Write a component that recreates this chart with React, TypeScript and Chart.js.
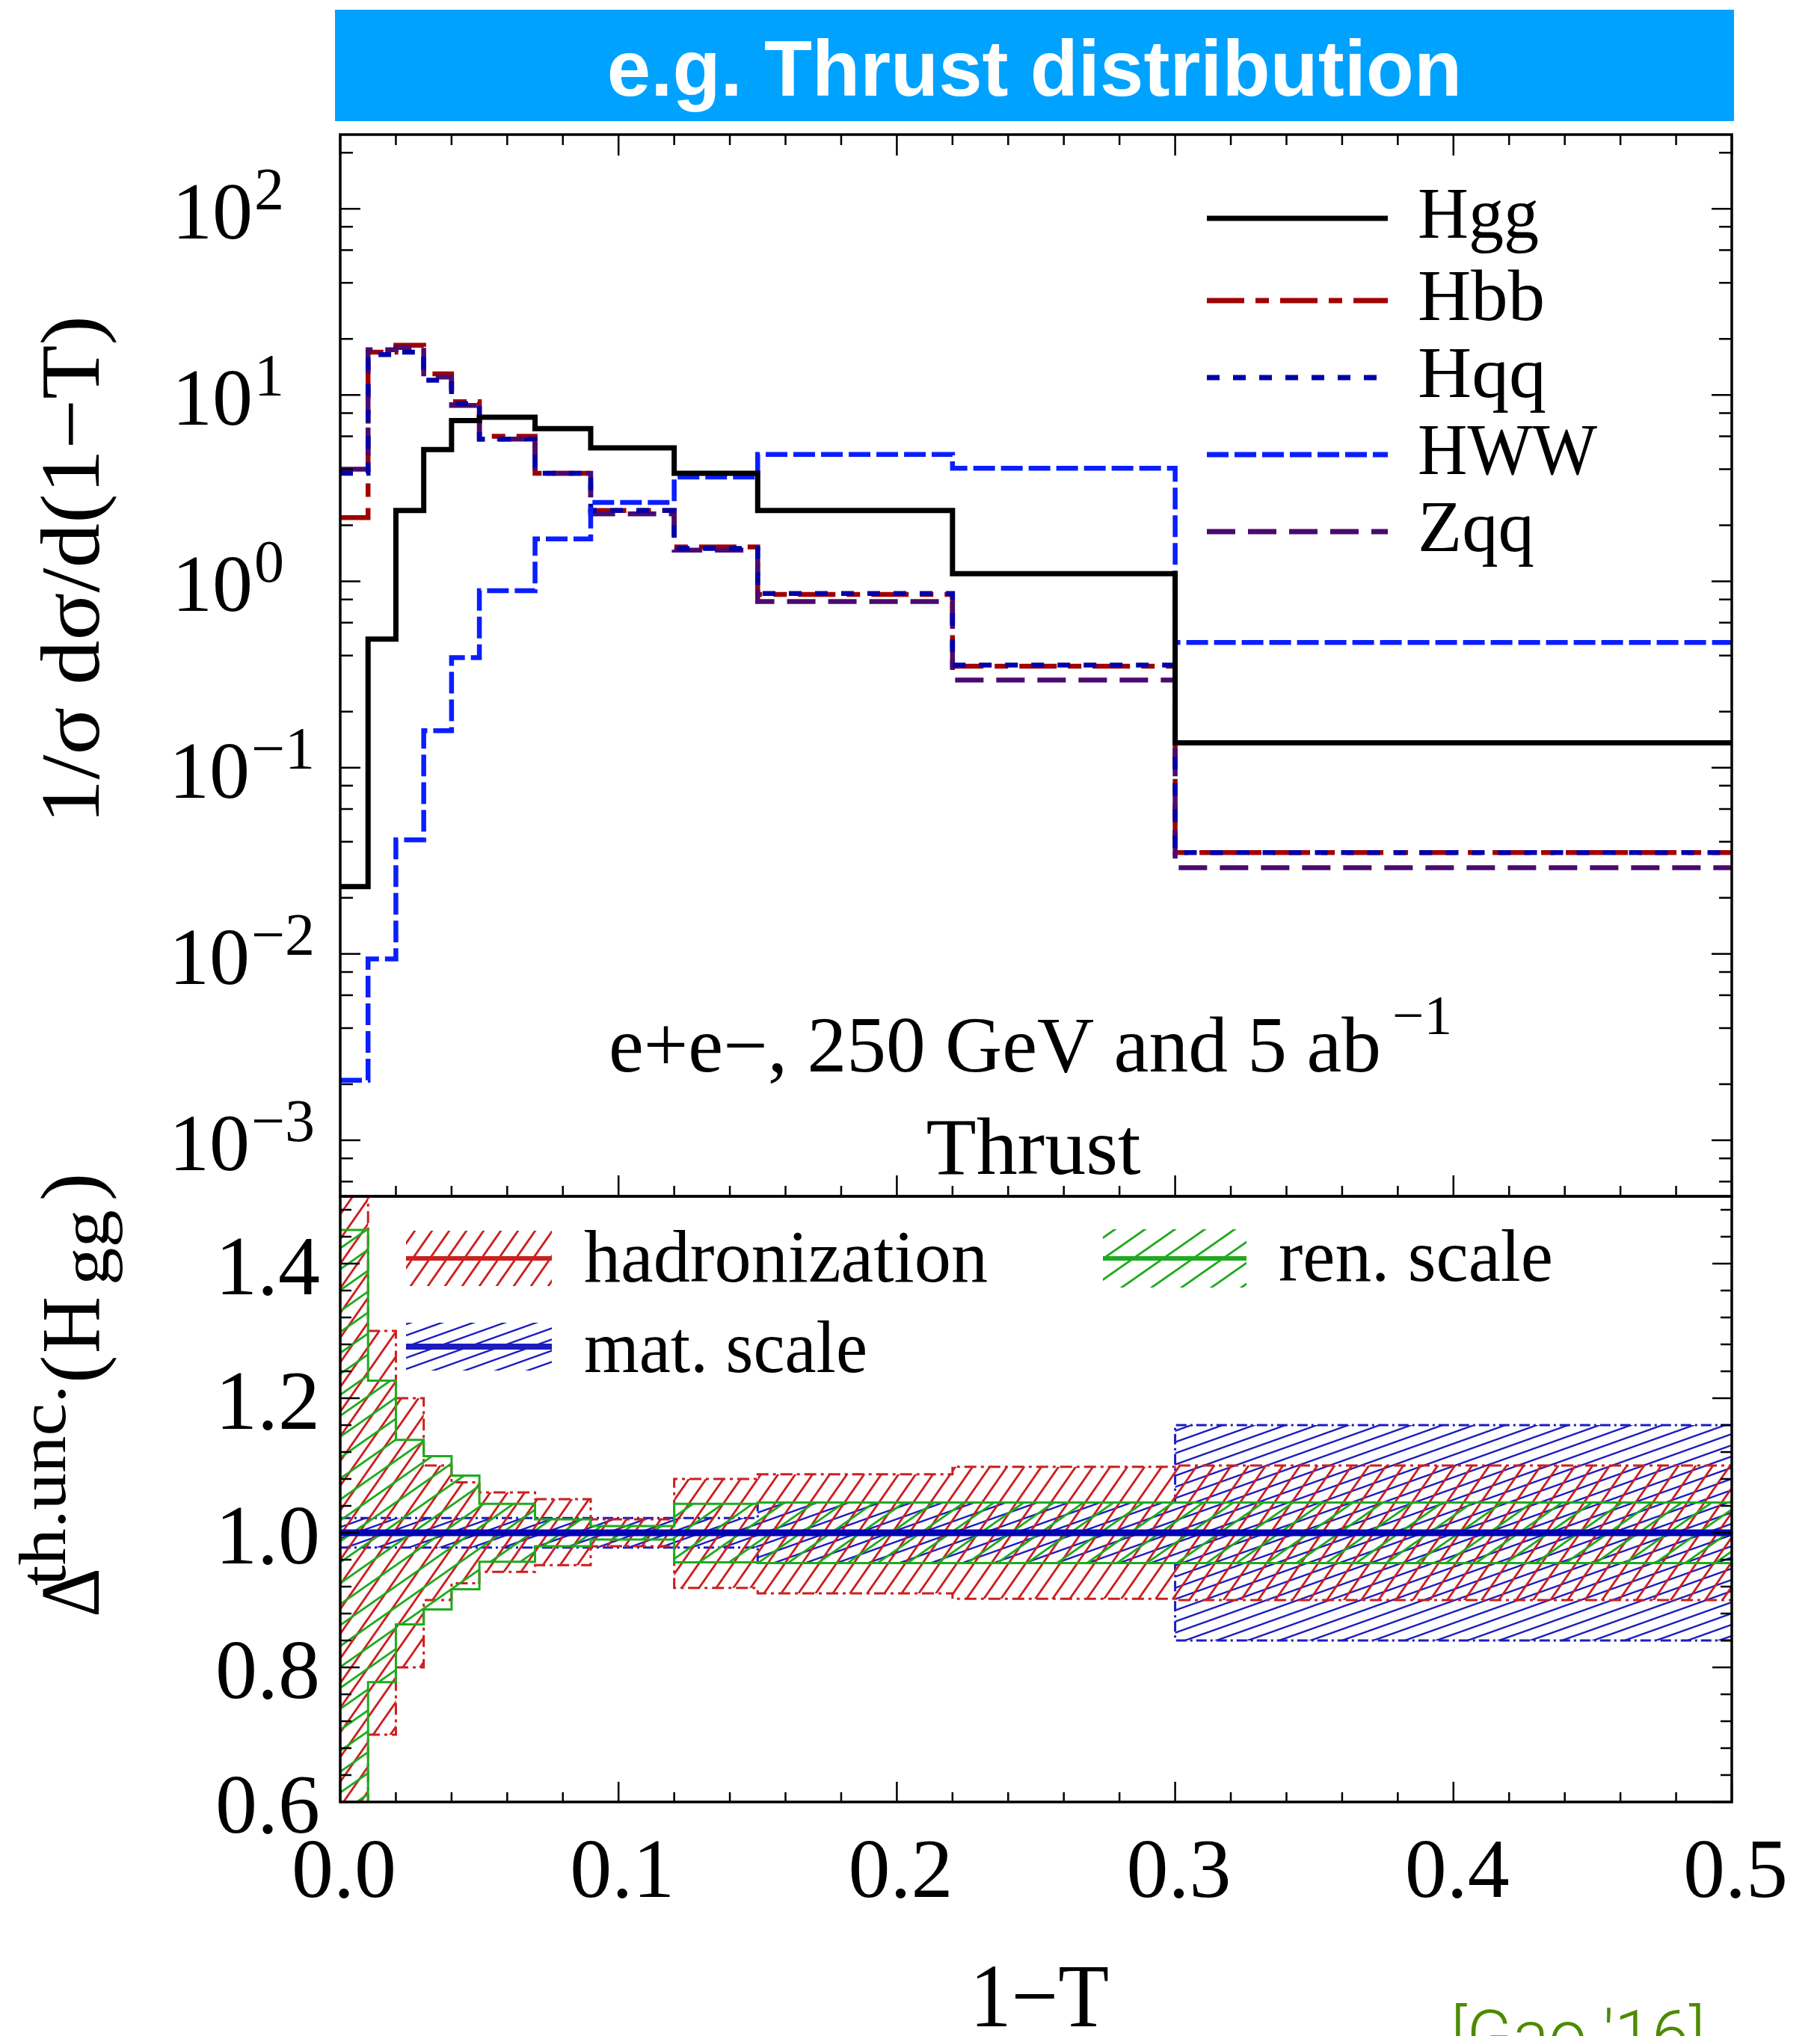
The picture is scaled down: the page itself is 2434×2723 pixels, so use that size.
import React, { useEffect, useRef } from "react";
import { Chart, registerables } from "chart.js";
Chart.register(...registerables);

const SERIF = '"Liberation Serif", "DejaVu Serif", serif';

// ---------- data ----------
const binEdges = [0, 0.01, 0.02, 0.03, 0.04, 0.05, 0.07, 0.09, 0.12, 0.15, 0.22, 0.3, 0.5];

const hgg = [0.023, 0.49, 2.4, 5.1, 7.3, 7.6, 6.6, 5.2, 3.8, 2.4, 1.1, 0.136];
const hbb = [2.2, 17, 18.5, 13, 9.2, 6.0, 3.8, 2.4, 1.53, 0.85, 0.35, 0.035];
const hqq = [3.8, 16.5, 17, 12, 9.0, 5.8, 3.8, 2.4, 1.5, 0.86, 0.355, 0.035];
const hww = [0.0021, 0.0094, 0.041, 0.158, 0.39, 0.89, 1.69, 2.65, 3.63, 4.8, 4.05, 0.47];
const zqq = [4.0, 17.5, 18, 12.5, 8.8, 5.8, 3.8, 2.3, 1.47, 0.78, 0.295, 0.029];

const hadUp = [1.65, 1.3, 1.2, 1.1, 1.075, 1.06, 1.05, 1.02, 1.08, 1.087, 1.098, 1.1];
const hadLo = [0.35, 0.7, 0.8, 0.9, 0.925, 0.942, 0.952, 0.98, 0.918, 0.91, 0.902, 0.9];
const renUp = [1.45, 1.226, 1.138, 1.114, 1.085, 1.043, 1.02, 1.01, 1.043, 1.045, 1.045, 1.045];
const renLo = [0.55, 0.778, 0.864, 0.886, 0.916, 0.957, 0.98, 0.99, 0.956, 0.955, 0.955, 0.955];
const matUp = [1.022, 1.022, 1.022, 1.022, 1.022, 1.022, 1.022, 1.022, 1.022, 1.045, 1.045, 1.16];
const matLo = [0.978, 0.978, 0.978, 0.978, 0.978, 0.978, 0.978, 0.978, 0.978, 0.955, 0.955, 0.84];
const matCentral = [1, 1, 1, 1, 1, 1, 1, 1, 1, 1, 1, 1];

const xTickValues = [0, 0.1, 0.2, 0.3, 0.4, 0.5];
const xTickLabels = ["0.0", "0.1", "0.2", "0.3", "0.4", "0.5"];
const logExponents = [2, 1, 0, -1, -2, -3];
const ratioTickValues = [0.6, 0.8, 1.0, 1.2, 1.4];
const ratioTickLabels = ["0.6", "0.8", "1.0", "1.2", "1.4"];

const seriesNames = ["Hgg", "Hbb", "Hqq", "HWW", "Zqq"];
const seriesColors = ["#000000", "#a00000", "#0000aa", "#0a1eff", "#4b0a6e"];
const seriesDashes: number[][] = [[], [50, 15, 18, 15], [17, 18], [29, 8], [38, 17]];

const bandNames = ["hadronization", "mat. scale", "ren. scale"];
const RED = "#cc1f1f";
const GREEN = "#1faa1f";
const BLUE = "#1c1cbf";

// ---------- helpers ----------
const stepData = (vals: number[]) => [
  ...vals.map((v, i) => ({ x: binEdges[i], y: v })),
  { x: binEdges[binEdges.length - 1], y: vals[vals.length - 1] },
];

function drawFit(
  ctx: CanvasRenderingContext2D,
  text: string,
  x: number,
  y: number,
  font: string,
  width?: number,
  align: CanvasTextAlign = "left"
) {
  ctx.save();
  ctx.font = font;
  ctx.textAlign = align;
  ctx.textBaseline = "alphabetic";
  ctx.fillStyle = "#000";
  const w = ctx.measureText(text).width;
  const s = width ? width / w : 1;
  ctx.translate(x, y);
  ctx.scale(s, 1);
  ctx.fillText(text, 0, 0);
  ctx.restore();
}

function makeHatch(ctx: CanvasRenderingContext2D, color: string, W: number, H: number, lw: number) {
  const c = document.createElement("canvas");
  c.width = W;
  c.height = H;
  const g = c.getContext("2d")!;
  g.strokeStyle = color;
  g.lineWidth = lw;
  for (let k = -1; k <= 1; k++) {
    g.beginPath();
    g.moveTo(k * W - W * 0.5, H * 1.5);
    g.lineTo(k * W + W * 1.5, -H * 0.5);
    g.stroke();
  }
  return ctx.createPattern(c, "repeat")!;
}

const upperDecor = {
  id: "upperDecor",
  afterDraw(chart: any) {
    const ctx: CanvasRenderingContext2D = chart.ctx;
    const { left, right, top, bottom } = chart.chartArea;
    const xs = chart.scales.x;
    const ys = chart.scales.y;
    ctx.save();
    ctx.setLineDash([]);
    ctx.strokeStyle = "#000";
    ctx.lineWidth = 3.5;
    ctx.strokeRect(left, top, right - left, bottom - top);
    ctx.lineWidth = 2.5;
    ctx.beginPath();
    for (let i = 0; i <= 25; i++) {
      const px = xs.getPixelForValue(i * 0.02);
      const L = i % 5 === 0 ? 28 : 14;
      ctx.moveTo(px, top);
      ctx.lineTo(px, top + L);
      ctx.moveTo(px, bottom);
      ctx.lineTo(px, bottom - L);
    }
    for (let e = -4; e <= 2; e++) {
      for (const m of [1, 2, 4, 6, 8]) {
        const v = m * Math.pow(10, e);
        if (v < ys.min || v > ys.max) continue;
        const py = ys.getPixelForValue(v);
        const L = m === 1 ? 27 : 17;
        ctx.moveTo(left, py);
        ctx.lineTo(left + L, py);
        ctx.moveTo(right, py);
        ctx.lineTo(right - L, py);
      }
    }
    ctx.stroke();

    // y tick labels 10^n
    for (const e of logExponents) {
      const py = ys.getPixelForValue(Math.pow(10, e));
      ctx.font = `108px ${SERIF}`;
      ctx.fillStyle = "#000";
      ctx.textAlign = "left";
      ctx.textBaseline = "alphabetic";
      const x0 = e < 0 ? 226 : 230;
      ctx.fillText("10", x0, py + 40);
      const w = ctx.measureText("10").width;
      ctx.font = `80px ${SERIF}`;
      const sup = e < 0 ? "\u2212" + Math.abs(e) : String(e);
      ctx.fillText(sup, x0 + w + 2, py + 1);
    }

    // y title (rotated)
    ctx.save();
    ctx.translate(132, 762);
    ctx.rotate(-Math.PI / 2);
    drawFit(ctx, "1/\u03c3 d\u03c3/d(1\u2212T)", 0, 0, `112px ${SERIF}`, 680, "center");
    ctx.restore();

    // annotation
    drawFit(ctx, "e+e\u2212, 250 GeV and 5 ab", 814, 1433, `105px ${SERIF}`, 1033, "left");
    drawFit(ctx, "\u22121", 1862, 1383, `74px ${SERIF}`, 80, "left");
    drawFit(ctx, "Thrust", 1382, 1570, `108px ${SERIF}`, 287, "center");

    // legend
    const legY = [292, 402, 505, 608, 711];
    const legW = [162, 170, 172, 240, 156];
    for (let i = 0; i < seriesNames.length; i++) {
      ctx.save();
      ctx.strokeStyle = seriesColors[i];
      ctx.lineWidth = 7;
      ctx.lineCap = "butt";
      ctx.setLineDash(seriesDashes[i]);
      ctx.beginPath();
      ctx.moveTo(1614, legY[i]);
      ctx.lineTo(1856, legY[i]);
      ctx.stroke();
      ctx.restore();
      drawFit(ctx, seriesNames[i], 1896, legY[i] + 26, `98px ${SERIF}`, legW[i], "left");
    }
    ctx.restore();
  },
};

const makeLowerDecor = (pats: { red: CanvasPattern; green: CanvasPattern; blue: CanvasPattern }) => ({
  id: "lowerDecor",
  afterDraw(chart: any) {
    const ctx: CanvasRenderingContext2D = chart.ctx;
    const { left, right, top, bottom } = chart.chartArea;
    const xs = chart.scales.x;
    const ys = chart.scales.y;
    ctx.save();
    ctx.setLineDash([]);
    ctx.strokeStyle = "#000";
    ctx.lineWidth = 3.5;
    ctx.strokeRect(left, top, right - left, bottom - top);
    ctx.lineWidth = 2.5;
    ctx.beginPath();
    for (let i = 0; i <= 25; i++) {
      const px = xs.getPixelForValue(i * 0.02);
      const L = i % 5 === 0 ? 27 : 13;
      ctx.moveTo(px, bottom);
      ctx.lineTo(px, bottom - L);
    }
    for (let k = 0; k <= 22; k++) {
      const v = 0.6 + 0.04 * k;
      const py = ys.getPixelForValue(v);
      const L = k % 5 === 0 ? 26 : 15;
      ctx.moveTo(left, py);
      ctx.lineTo(left + L, py);
      ctx.moveTo(right, py);
      ctx.lineTo(right - L, py);
    }
    ctx.stroke();

    // tick labels
    ctx.fillStyle = "#000";
    for (let i = 0; i < ratioTickValues.length; i++) {
      const py = ys.getPixelForValue(ratioTickValues[i]);
      drawFit(ctx, ratioTickLabels[i], 428, py + 41, `112px ${SERIF}`, undefined, "right");
    }
    for (let i = 0; i < xTickValues.length; i++) {
      const px = xs.getPixelForValue(xTickValues[i]);
      drawFit(ctx, xTickLabels[i], px + 5, 2537, `112px ${SERIF}`, undefined, "center");
    }
    drawFit(ctx, "1\u2212T", 1390, 2710, `121px ${SERIF}`, 186, "center");

    // y title (rotated)
    ctx.save();
    ctx.rotate(-Math.PI / 2);
    drawFit(ctx, "\u0394", -2163, 132, `112px ${SERIF}`, 66, "left");
    drawFit(ctx, "th.unc.", -2121, 87, `88px ${SERIF}`, 269, "left");
    drawFit(ctx, "(", -1850, 132, `112px ${SERIF}`, undefined, "left");
    drawFit(ctx, "H", -1810, 132, `112px ${SERIF}`, 76, "left");
    drawFit(ctx, "gg", -1719, 145, `90px ${SERIF}`, 101, "left");
    drawFit(ctx, ")", -1606, 132, `112px ${SERIF}`, undefined, "left");
    ctx.restore();

    // legend
    const entry = (x0: number, x1: number, y: number, h: number, pat: CanvasPattern, col: string, lw: number) => {
      ctx.save();
      ctx.fillStyle = pat;
      ctx.fillRect(x0, y - h, x1 - x0, 2 * h);
      ctx.strokeStyle = col;
      ctx.lineWidth = lw;
      ctx.setLineDash([]);
      ctx.beginPath();
      ctx.moveTo(x0, y);
      ctx.lineTo(x1, y);
      ctx.stroke();
      ctx.restore();
    };
    entry(543, 738, 1683, 37, pats.red, RED, 6);
    entry(543, 738, 1801, 32, pats.blue, BLUE, 8);
    entry(1475, 1667, 1683, 39, pats.green, GREEN, 6);
    drawFit(ctx, bandNames[0], 781, 1714, `100px ${SERIF}`, 540, "left");
    drawFit(ctx, bandNames[1], 781, 1835, `100px ${SERIF}`, 379, "left");
    drawFit(ctx, bandNames[2], 1710, 1713, `100px ${SERIF}`, 367, "left");
    ctx.restore();
  },
});

export default function App() {
  const topRef = useRef<HTMLCanvasElement>(null);
  const botRef = useRef<HTMLCanvasElement>(null);

  useEffect(() => {
    const lineDs = (label: string, vals: number[], color: string, dash: number[], width = 6.5) => ({
      label,
      data: stepData(vals),
      borderColor: color,
      backgroundColor: color,
      borderWidth: width,
      borderDash: dash,
      stepped: true,
      pointRadius: 0,
      fill: false,
      tension: 0,
      borderCapStyle: "butt",
      borderJoinStyle: "miter",
    });

    const top = new Chart(topRef.current!, {
      type: "line",
      data: {
        datasets: [
          lineDs(seriesNames[0], hgg, seriesColors[0], seriesDashes[0], 7),
          lineDs(seriesNames[3], hww, seriesColors[3], seriesDashes[3]),
          lineDs(seriesNames[2], hqq, seriesColors[2], seriesDashes[2]),
          lineDs(seriesNames[4], zqq, seriesColors[4], seriesDashes[4]),
          lineDs(seriesNames[1], hbb, seriesColors[1], seriesDashes[1]),
        ] as any,
      },
      options: {
        responsive: false,
        animation: false,
        devicePixelRatio: 1,
        events: [],
        layout: { padding: { left: 455, right: 118, top: 180, bottom: 1123 } },
        plugins: { legend: { display: false }, tooltip: { enabled: false }, title: { display: false } },
        scales: {
          x: { type: "linear", min: 0, max: 0.5, display: false, bounds: "data" },
          y: { type: "logarithmic", min: 5e-4, max: 250, display: false, bounds: "data" },
        },
      } as any,
      plugins: [upperDecor as any],
    });

    const ctx2 = botRef.current!.getContext("2d")!;
    const pats = {
      red: makeHatch(ctx2, RED, 23, 33, 2.8),
      green: makeHatch(ctx2, GREEN, 40, 28, 2.8),
      blue: makeHatch(ctx2, BLUE, 42, 15, 2.4),
    };
    const bandDs = (vals: number[], color: string, dash: number[], fill: any, bg: any) => ({
      data: stepData(vals),
      borderColor: color,
      backgroundColor: bg,
      borderWidth: 3,
      borderDash: dash,
      stepped: true,
      pointRadius: 0,
      fill,
      tension: 0,
    });

    const bot = new Chart(botRef.current!, {
      type: "line",
      data: {
        datasets: [
          { ...bandDs(matCentral, "#0000b4", [], false, "transparent"), borderWidth: 9 },
          bandDs(renUp, GREEN, [], "+1", pats.green),
          bandDs(renLo, GREEN, [], false, "transparent"),
          bandDs(hadUp, RED, [16, 6, 4, 6], "+1", pats.red),
          bandDs(hadLo, RED, [16, 6, 4, 6], false, "transparent"),
          bandDs(matUp, BLUE, [14, 5, 3, 5], "+1", pats.blue),
          bandDs(matLo, BLUE, [14, 5, 3, 5], false, "transparent"),
        ] as any,
      },
      options: {
        responsive: false,
        animation: false,
        devicePixelRatio: 1,
        events: [],
        layout: { padding: { left: 455, right: 118, top: 1600, bottom: 313 } },
        plugins: {
          legend: { display: false },
          tooltip: { enabled: false },
          title: { display: false },
          filler: { propagate: false },
        },
        scales: {
          x: { type: "linear", min: 0, max: 0.5, display: false, bounds: "data" },
          y: { type: "linear", min: 0.6, max: 1.5, display: false, bounds: "data" },
        },
      } as any,
      plugins: [makeLowerDecor(pats) as any],
    });

    return () => {
      top.destroy();
      bot.destroy();
    };
  }, []);

  const canvasStyle: React.CSSProperties = {
    position: "absolute",
    left: 0,
    top: 0,
    width: 2434,
    height: 2723,
  };

  return (
    <div
      style={{
        position: "absolute",
        left: 0,
        top: 0,
        width: 2434,
        height: 2723,
        overflow: "hidden",
        background: "#ffffff",
      }}
    >
      <div
        style={{
          position: "absolute",
          left: 448,
          top: 13,
          width: 1871,
          height: 149,
          background: "#00a2ff",
          color: "#ffffff",
          fontFamily: '"Liberation Sans", Arial, sans-serif',
          fontWeight: "bold",
          fontSize: 105,
          lineHeight: "149px",
          textAlign: "center",
          paddingTop: 4,
          boxSizing: "border-box",
          whiteSpace: "nowrap",
          overflow: "hidden",
        }}
      >
        e.g. Thrust distribution
      </div>
      <canvas ref={topRef} width={2434} height={2723} style={canvasStyle} />
      <canvas ref={botRef} width={2434} height={2723} style={canvasStyle} />
      <span
        style={{
          position: "absolute",
          left: 1940,
          top: 2678,
          fontFamily: '"Roboto", "Liberation Sans", sans-serif',
          fontWeight: 300,
          fontSize: 90,
          lineHeight: "90px",
          color: "#4e8a00",
          whiteSpace: "nowrap",
        }}
      >
        [Gao '16]
      </span>
    </div>
  );
}
